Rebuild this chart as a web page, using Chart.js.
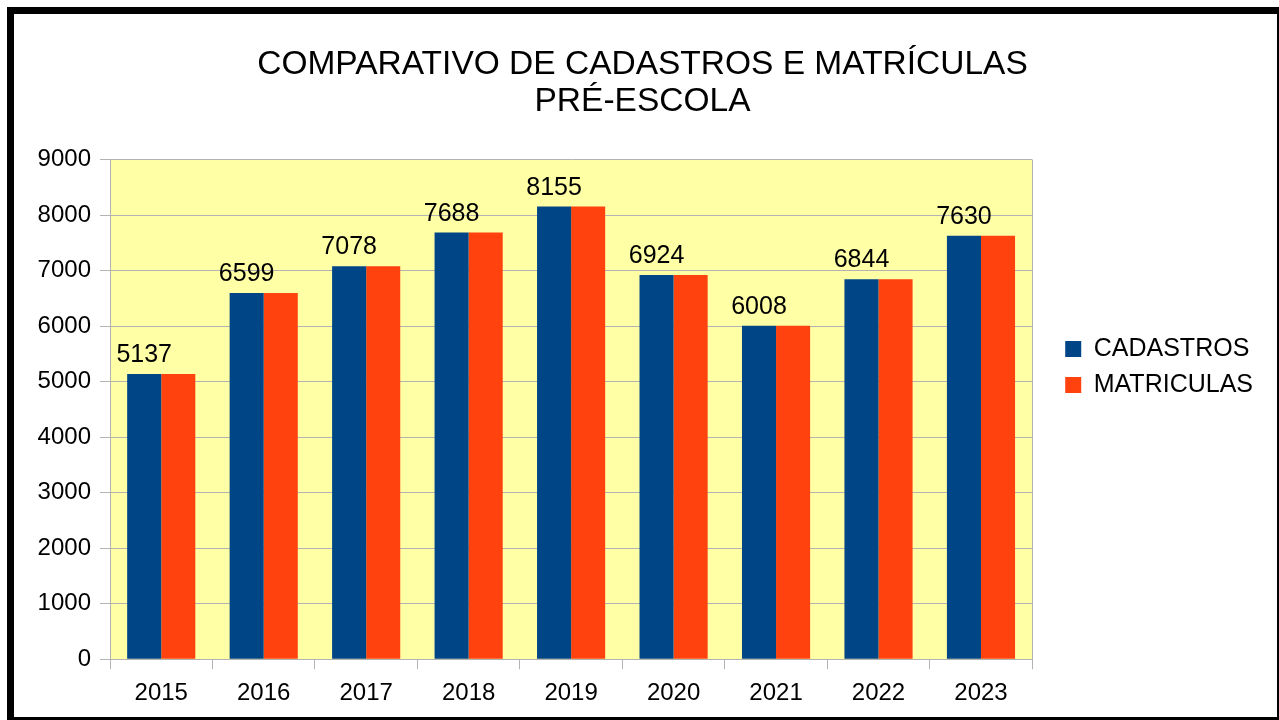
<!DOCTYPE html>
<html>
<head>
<meta charset="utf-8">
<script src="https://cdn.jsdelivr.net/npm/chart.js@4.4.1/dist/chart.umd.min.js"></script>
<style>
  html, body { margin: 0; padding: 0; background: #fff; }
  #wrap { position: relative; width: 1279px; height: 720px; }
  #frame {
    position: absolute; left: 7px; top: 7px; width: 1272px; height: 713px;
    box-sizing: border-box; pointer-events: none;
    border-left: 7px solid #000; border-top: 7px solid #000;
    border-right: 2px solid #000; border-bottom: 3px solid #000;
  }
</style>
</head>
<body>
<div id="wrap">
  <canvas id="chart" width="1279" height="720"></canvas>
  <div id="frame"></div>
</div>
<script>
// Données
const ANOS = ['2015', '2016', '2017', '2018', '2019', '2020', '2021', '2022', '2023'];
const CADASTROS = [5137, 6599, 7078, 7688, 8155, 6924, 6008, 6844, 7630];
const MATRICULAS = [5137, 6599, 7078, 7688, 8155, 6924, 6008, 6844, 7630];
const TITULO = ['COMPARATIVO DE CADASTROS E MATRÍCULAS', 'PRÉ-ESCOLA'];

const FONT = 'Liberation Sans, Arial, sans-serif';
const GRID = '#b3b3b3';
const LEGEND_GAP = 24; // espace en plus entre la zone de tracé et la légende

// Fond jaune + bord droit de la zone de tracé
const plotBg = {
  id: 'plotBg',
  beforeDraw(chart) {
    const { ctx, chartArea: a } = chart;
    ctx.save();
    ctx.fillStyle = '#ffffa6';
    ctx.fillRect(a.left, a.top, a.right - a.left, a.bottom - a.top);
    ctx.restore();
  },
  afterDraw(chart) {
    const { ctx, chartArea: a } = chart;
    ctx.save();
    ctx.strokeStyle = GRID;
    ctx.lineWidth = 1;
    ctx.beginPath();
    ctx.moveTo(Math.round(a.right) + 0.5, a.top);
    ctx.lineTo(Math.round(a.right) + 0.5, a.bottom);
    ctx.stroke();
    ctx.restore();
  }
};

// Étiquettes de valeur au-dessus des barres bleues
const valueLabels = {
  id: 'valueLabels',
  afterDatasetsDraw(chart) {
    const { ctx } = chart;
    const meta = chart.getDatasetMeta(0);
    ctx.save();
    ctx.fillStyle = '#000';
    ctx.font = '25px ' + FONT;
    ctx.textAlign = 'center';
    ctx.textBaseline = 'alphabetic';
    meta.data.forEach((bar, i) => {
      ctx.fillText(String(CADASTROS[i]), bar.x, bar.y - 12);
    });
    ctx.restore();
  }
};

const chart = new Chart(document.getElementById('chart'), {
  type: 'bar',
  data: {
    labels: ANOS,
    datasets: [
      { label: 'CADASTROS', data: CADASTROS, backgroundColor: '#004586', borderWidth: 0 },
      { label: 'MATRICULAS', data: MATRICULAS, backgroundColor: '#ff420e', borderWidth: 0 }
    ]
  },
  options: {
    responsive: false,
    animation: false,
    events: [],
    datasets: { bar: { categoryPercentage: 0.665, barPercentage: 1.0 } },
    layout: { padding: { left: 20, right: 14, top: 28, bottom: 2 } },
    plugins: {
      title: {
        display: true,
        text: TITULO,
        color: '#000',
        font: { family: FONT, size: 33.5, weight: 'normal', lineHeight: 1.1 },
        padding: { top: 18, bottom: 40 }
      },
      legend: {
        position: 'right',
        labels: {
          color: '#000',
          font: { family: FONT, size: 25 },
          boxWidth: 16, boxHeight: 16,
          padding: 11
        }
      },
      tooltip: { enabled: false }
    },
    scales: {
      x: {
        grid: { drawOnChartArea: false, drawTicks: true, tickLength: 10, color: GRID, offset: true },
        border: { color: GRID },
        ticks: { color: '#000', font: { family: FONT, size: 24 }, padding: 10 }
      },
      y: {
        min: 0, max: 9000,
        afterFit: s => { s.width = 90; },
        grid: { color: GRID, tickLength: 10 },
        border: { color: GRID },
        ticks: { stepSize: 1000, color: '#000', font: { family: FONT, size: 24 }, padding: 9, callback: v => String(v) }
      }
    }
  },
  plugins: [plotBg, valueLabels]
});

// Légende un peu plus large, items décalés vers la droite et remontés
const lg = chart.legend;
const fit0 = lg.fit;
lg.fit = function () { fit0.call(this); this.width += LEGEND_GAP; };
const draw0 = lg.draw;
lg.draw = function () {
  this.ctx.save();
  this.ctx.translate(LEGEND_GAP - 2, -6);
  draw0.apply(this, arguments);
  this.ctx.restore();
};
chart.update();
</script>
</body>
</html>
